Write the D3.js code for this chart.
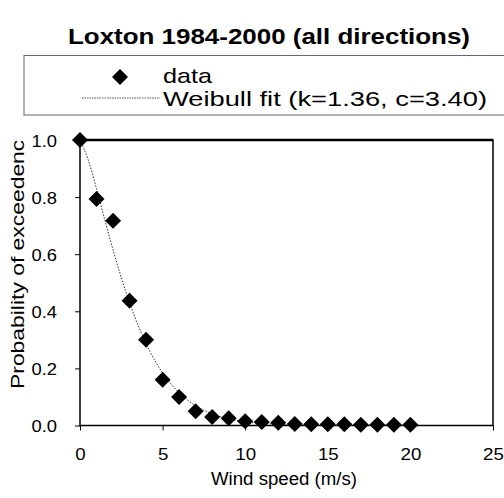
<!DOCTYPE html>
<html>
<head>
<meta charset="utf-8">
<script src="https://cdn.jsdelivr.net/npm/d3@7"></script>
<style>
  body { margin: 0; background: #fff; }
  text { font-family: "Liberation Sans", Arial, sans-serif; fill: #000; }
</style>
</head>
<body>
<svg width="504" height="498"></svg>
<script>
// wind speed (m/s) and observed probability of exceedence
var speeds = [0, 1, 2, 3, 4, 5, 6, 7, 8, 9, 10, 11, 12, 13, 14, 15, 16, 17, 18, 19, 20];
var probs  = [1.0, 0.793, 0.717, 0.437, 0.30, 0.16, 0.10, 0.05, 0.03, 0.025, 0.015, 0.012, 0.01, 0.005, 0.004, 0.004, 0.004, 0.003, 0.003, 0.003, 0.003];

// Weibull fit curve
var fitSpeeds = [0, 0.5, 1, 1.5, 2, 3, 4, 5, 6, 7, 8, 9, 10, 12, 14, 20];
var fitProbs  = [1.0, 0.93, 0.83, 0.72, 0.615, 0.43, 0.287, 0.184, 0.115, 0.069, 0.041, 0.023, 0.013, 0.004, 0.001, 0.0];

var xTicks = [0, 5, 10, 15, 20, 25];
var yTicks = [0, 0.2, 0.4, 0.6, 0.8, 1.0];

var svg = d3.select("svg");

var x = d3.scaleLinear().domain([0, 25]).range([80, 493]);
var y = d3.scaleLinear().domain([0, 1]).range([425.5, 140]);

// the original lettering is a bit wider than Arial, stretch it
function stretch(sel, f) {
  sel.each(function() {
    var w = this.getComputedTextLength();
    d3.select(this).attr("textLength", w * f).attr("lengthAdjust", "spacingAndGlyphs");
  });
}

// title
svg.append("text")
    .attr("x", 68).attr("y", 44)
    .style("font-size", "22px").style("font-weight", "bold")
    .text("Loxton 1984-2000 (all directions)")
    .attr("textLength", 402).attr("lengthAdjust", "spacingAndGlyphs");

// legend box (runs off the right edge)
svg.append("rect")
    .attr("x", 24).attr("y", 55.5)
    .attr("width", 500).attr("height", 59.5)
    .attr("fill", "none").attr("stroke", "#666").attr("stroke-width", 1);

var diamond = d3.symbol().type(d3.symbolSquare).size(128);

svg.append("path")
    .attr("d", diamond)
    .attr("transform", "translate(120,77) rotate(45)")
    .attr("fill", "#000");
svg.append("text").attr("x", 163).attr("y", 83)
    .style("font-size", "21px").text("data")
    .attr("textLength", 49).attr("lengthAdjust", "spacingAndGlyphs");

svg.append("line")
    .attr("x1", 82).attr("x2", 160).attr("y1", 98).attr("y2", 98)
    .attr("stroke", "#555").attr("stroke-width", 1).attr("stroke-dasharray", "1.5,1");
svg.append("text").attr("x", 163).attr("y", 106)
    .style("font-size", "21px").text("Weibull fit (k=1.36, c=3.40)")
    .attr("textLength", 324).attr("lengthAdjust", "spacingAndGlyphs");

// plot frame
svg.append("rect")
    .attr("x", x(0)).attr("y", y(1))
    .attr("width", x(25) - x(0)).attr("height", y(0) - y(1))
    .attr("fill", "none").attr("stroke", "#000").attr("stroke-width", 1.5);
svg.append("line")
    .attr("x1", x(0)).attr("x2", x(25)).attr("y1", y(1)).attr("y2", y(1))
    .attr("stroke", "#000").attr("stroke-width", 2.5);

// axes
var xAxis = svg.append("g")
    .attr("transform", "translate(0," + y(0) + ")")
    .call(d3.axisBottom(x).tickValues(xTicks).tickSize(5).tickPadding(9).tickFormat(d3.format("d")));
var yAxis = svg.append("g")
    .attr("transform", "translate(" + x(0) + ",0)")
    .call(d3.axisLeft(y).tickValues(yTicks).tickSize(5).tickPadding(18).tickFormat(d3.format(".1f")));

[xAxis, yAxis].forEach(function(a) {
  a.select(".domain").remove();
  a.selectAll("line").attr("stroke", "#000");
  a.selectAll("text").style("font-size", "17px").style("font-family", "Liberation Sans, Arial, sans-serif");
});
xAxis.selectAll("text").attr("dy", null).attr("y", 34);
yAxis.selectAll("text").attr("dy", "0.36em");
stretch(xAxis.selectAll("text"), 1.1);
stretch(yAxis.selectAll("text"), 1.08);

// axis titles
svg.append("text")
    .attr("x", 211).attr("y", 485)
    .style("font-size", "18px")
    .text("Wind speed (m/s)")
    .attr("textLength", 146).attr("lengthAdjust", "spacingAndGlyphs");

svg.append("clipPath").attr("id", "ylab-clip")
  .append("rect").attr("x", 0).attr("y", 141).attr("width", 40).attr("height", 300);

svg.append("g")
    .attr("clip-path", "url(#ylab-clip)")
  .append("text")
    .attr("transform", "translate(24,389) rotate(-90)")
    .style("font-size", "17.5px")
    .text("Probability of exceedence")
    .attr("textLength", 262).attr("lengthAdjust", "spacingAndGlyphs");

// fit line
var line = d3.line()
    .x(function(d, i) { return x(fitSpeeds[i]); })
    .y(function(d) { return y(d); })
    .curve(d3.curveMonotoneX);

svg.append("path")
    .datum(fitProbs)
    .attr("d", line)
    .attr("fill", "none")
    .attr("stroke", "#333")
    .attr("stroke-width", 1)
    .attr("stroke-dasharray", "1.5,1.5");

// data points
svg.append("g").selectAll("path")
    .data(probs)
    .enter().append("path")
      .attr("d", diamond)
      .attr("transform", function(d, i) {
        return "translate(" + x(speeds[i]) + "," + y(d) + ") rotate(45)";
      })
      .attr("fill", "#000");
</script>
</body>
</html>
